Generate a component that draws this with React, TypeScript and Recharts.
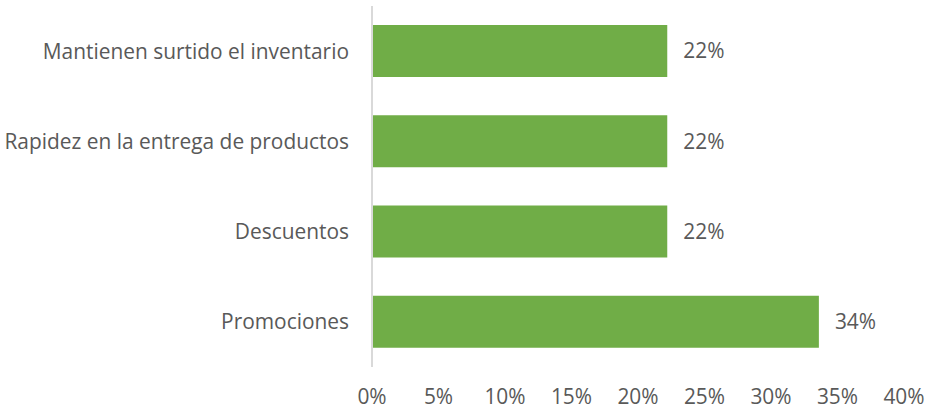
import { Bar, BarChart, LabelList, XAxis, YAxis } from 'recharts'

const categories = [
  'Mantienen surtido el inventario',
  'Rapidez en la entrega de productos',
  'Descuentos',
  'Promociones',
]
const shares = [22.2, 22.2, 22.2, 33.6]
const xTicks = [0, 5, 10, 15, 20, 25, 30, 35, 40]

const data = categories.map((name, i) => ({ name, value: shares[i] }))

const FONT = '"Open Sans", sans-serif'
const TEXT = '#595959'
const SIZE = 20.9

export default function App() {
  return (
    <div style={{ position: 'absolute', left: 0, top: 0, background: '#fff' }}>
      <BarChart
        width={927}
        height={409}
        data={data}
        layout="vertical"
        margin={{ top: 6, right: 23, left: 0, bottom: 0 }}
        barSize={52}
      >
        <XAxis
          type="number"
          domain={[0, 40]}
          ticks={xTicks}
          tickFormatter={(v: number) => `${v}%`}
          axisLine={false}
          tickLine={false}
          tickSize={0}
          tickMargin={22}
          height={42}
          interval={0}
          tick={{ fontSize: SIZE, fill: TEXT, fontFamily: FONT }}
        />
        <YAxis
          type="category"
          dataKey="name"
          width={372}
          axisLine={{ stroke: '#D9D9D9', strokeWidth: 2 }}
          tickLine={false}
          tickSize={0}
          tickMargin={23}
          interval={0}
          tick={{ fontSize: SIZE, fill: TEXT, fontFamily: FONT }}
        />
        <Bar dataKey="value" fill="#70AD47" isAnimationActive={false}>
          <LabelList
            dataKey="value"
            position="right"
            offset={16}
            formatter={(v: number) => `${Math.round(v)}%`}
            style={{ fontSize: SIZE, fill: TEXT, fontFamily: FONT }}
          />
        </Bar>
      </BarChart>
    </div>
  )
}
